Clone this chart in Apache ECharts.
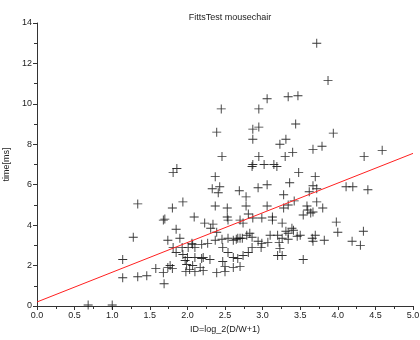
<!DOCTYPE html>
<html>
<head>
<meta charset="utf-8">
<script src="https://cdn.jsdelivr.net/npm/echarts@6/dist/echarts.min.js"></script>
<style>
  html, body { margin: 0; padding: 0; background: #fff; }
  #chart { width: 420px; height: 340px; }
</style>
</head>
<body>
<div id="chart"></div>
<script>
// measured trials: [ID, time]
const trials = [
  [3.72, 13.0], [3.87, 11.15],
  [3.06, 10.25], [3.34, 10.35], [3.47, 10.4],
  [2.45, 9.75], [2.95, 9.75], [2.39, 8.6], [2.87, 8.75], [2.95, 8.85], [3.44, 9.0], [3.94, 8.55],
  [2.87, 8.25], [3.23, 8.0], [3.31, 8.25], [2.46, 7.4], [2.95, 7.4], [3.30, 7.4], [3.40, 7.6],
  [3.67, 7.75], [3.79, 7.9], [4.35, 7.4], [4.59, 7.7],
  [2.86, 6.9], [2.87, 7.0], [3.02, 7.0], [3.15, 7.0], [3.19, 6.9], [3.48, 6.6], [2.37, 6.4],
  [3.70, 6.4], [1.81, 6.6], [1.86, 6.8], [3.36, 6.1], [2.33, 5.8], [2.43, 5.9], [2.41, 5.6],
  [2.69, 5.7], [2.78, 5.4], [2.94, 5.85], [3.06, 6.0], [3.67, 5.95], [3.72, 5.8], [4.11, 5.9],
  [4.20, 5.9], [4.40, 5.75], [3.62, 5.65], [3.28, 5.5], [3.42, 5.2], [3.72, 5.15], [1.34, 5.05],
  [1.80, 4.85], [1.94, 5.15], [2.37, 4.95], [2.53, 4.85], [2.78, 4.95], [3.06, 4.95], [3.28, 4.85],
  [3.34, 5.0], [3.59, 4.95], [3.80, 4.85], [3.60, 4.75], [3.67, 4.65], [3.64, 4.6], [3.54, 4.5],
  [2.81, 4.55],
  [1.68, 4.25], [1.70, 4.3], [2.09, 4.4], [2.53, 4.4], [2.87, 4.35], [2.99, 4.35], [3.13, 4.4],
  [3.26, 4.1], [2.23, 4.1], [2.34, 4.05], [2.31, 3.85], [2.39, 3.65], [2.54, 4.25], [2.70, 4.25],
  [2.74, 4.1], [3.13, 4.25], [3.31, 3.7], [3.39, 3.85], [3.41, 3.75], [3.98, 4.15], [4.0, 3.65],
  [4.34, 3.7], [1.85, 3.8], [1.28, 3.4], [1.74, 3.25], [1.90, 3.35], [1.81, 2.9], [1.93, 2.9],
  [2.01, 2.9], [2.07, 3.05],
  [2.06, 3.1], [2.19, 3.05], [2.10, 2.9], [2.27, 3.1], [2.37, 3.25], [2.46, 3.3], [2.47, 2.9],
  [2.54, 3.35], [2.61, 3.25], [2.65, 3.3], [2.67, 3.35], [2.70, 3.35], [2.73, 3.35], [2.79, 3.5],
  [2.83, 3.6], [2.86, 3.4], [2.94, 3.2], [2.99, 3.1], [2.98, 2.9], [3.07, 3.15], [3.10, 3.5],
  [3.20, 3.5], [3.22, 3.15], [3.23, 2.85], [3.20, 2.5], [3.26, 3.35], [3.34, 3.3], [3.34, 3.6],
  [3.46, 3.45], [3.50, 3.5], [3.66, 3.35], [3.67, 3.2], [3.70, 3.5], [3.82, 3.25], [4.19, 3.2],
  [4.30, 3.0], [3.26, 2.5], [3.54, 2.3], [2.54, 2.65], [2.61, 2.4], [2.67, 2.35], [2.74, 2.5],
  [2.81, 2.65], [2.86, 2.9], [2.47, 2.2], [2.50, 1.95], [2.61, 1.9], [2.70, 1.95], [2.10, 2.4],
  [2.19, 2.35], [2.21, 2.4], [2.30, 2.3], [2.07, 2.0], [2.17, 1.9], [2.21, 1.75], [2.10, 1.7],
  [2.39, 1.65], [2.50, 1.7],
  [1.14, 2.3], [1.77, 2.0], [1.74, 1.9], [1.80, 1.85], [1.58, 1.85], [1.68, 1.65], [1.97, 2.25],
  [1.99, 2.05], [2.03, 1.8], [1.98, 1.7], [1.85, 2.65], [1.94, 2.55], [2.0, 2.4], [1.46, 1.5],
  [1.34, 1.45], [1.14, 1.4], [1.69, 1.1], [1.0, 0.05], [0.68, 0.05]
];

// fitted line end points
const fitX = [0, 5];
const fitY = [0.2, 7.55];

const chart = echarts.init(document.getElementById('chart'));
const font = 'Liberation Sans, Arial, sans-serif';
const plusPath = 'path://M4.5,0H5.5V4.5H10V5.5H5.5V10H4.5V5.5H0V4.5H4.5Z';

chart.setOption({
  animation: false,
  backgroundColor: '#fff',
  title: {
    text: 'FittsTest mousechair',
    left: 225, top: 8, textAlign: 'center',
    textStyle: { fontFamily: font, fontSize: 9, fontWeight: 'normal', color: '#222' }
  },
  grid: { left: 37, right: 7, top: 23, bottom: 34, containLabel: false, outerBoundsMode: 'none' },
  xAxis: {
    type: 'value', min: 0, max: 5, interval: 0.5,
    name: 'ID=log_2(D/W+1)', nameLocation: 'middle', nameGap: 16,
    nameTextStyle: { fontFamily: font, fontSize: 9, color: '#222' },
    axisLine: { onZero: false, lineStyle: { color: '#333', width: 1 } },
    axisTick: { length: 4, lineStyle: { color: '#333' } },
    minorTick: { show: true, splitNumber: 2, length: 3, lineStyle: { color: '#333' } },
    axisLabel: { fontFamily: font, fontSize: 9, color: '#222', margin: 5, formatter: v => v.toFixed(1) },
    splitLine: { show: false }
  },
  yAxis: {
    type: 'value', min: 0, max: 14, interval: 2,
    name: 'time[ms]', nameLocation: 'middle', nameGap: 23, nameRotate: 90,
    nameTextStyle: { fontFamily: font, fontSize: 9, color: '#222' },
    axisLine: { show: true, onZero: false, lineStyle: { color: '#333', width: 1 } },
    axisTick: { show: true, length: 4, lineStyle: { color: '#333' } },
    minorTick: { show: true, splitNumber: 2, length: 3, lineStyle: { color: '#333' } },
    axisLabel: { fontFamily: font, fontSize: 9, color: '#222', margin: 5 },
    splitLine: { show: false }
  },
  series: [
    {
      type: 'scatter',
      data: trials,
      symbol: plusPath,
      symbolSize: 9,
      itemStyle: { color: '#111', opacity: 0.85 }
    },
    {
      type: 'line',
      data: fitX.map((x, i) => [x, fitY[i]]),
      symbol: 'none',
      lineStyle: { color: '#ff2020', width: 1 },
      z: 3
    }
  ]
});
</script>
</body>
</html>
